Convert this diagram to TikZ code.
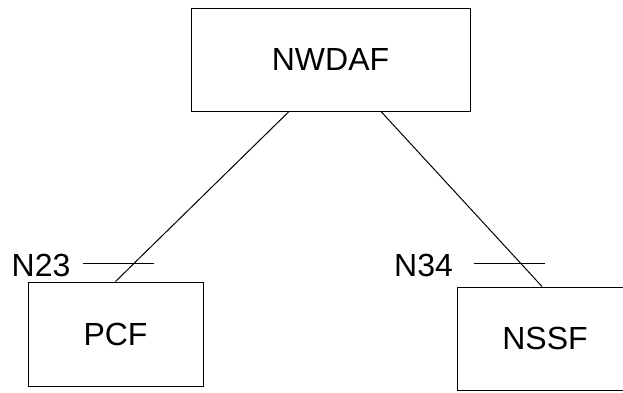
\documentclass[tikz,border=0pt]{standalone}
\usepackage{fontspec}
\setmainfont{Liberation Sans}
\usepackage{tikz}
\usetikzlibrary{positioning, calc}

\begin{document}
\begin{tikzpicture}[x=1pt, y=1pt, line width=1pt,
    nf/.style={draw, rectangle, inner sep=0pt, font=\fontsize{32}{38}\selectfont},
    lbl/.style={inner sep=0pt, font=\fontsize{32}{38}\selectfont}]
  \clip (0,0) rectangle (623,-392);
  \useasboundingbox (0,0) rectangle (623,-392);
  % network functions
  \node[nf, minimum width=279pt, minimum height=103pt] (nwdaf) at (330.5,-59.5) {NWDAF};
  \node[nf, minimum width=175pt, minimum height=104pt] (pcf) at (115.5,-334) {PCF};
  \node[nf, minimum width=176pt, minimum height=103pt] (nssf) at (545,-338.5) {NSSF};
  % interfaces
  \draw ([xshift=-41.5pt]nwdaf.south) -- (pcf.north);
  \draw ([xshift=50.5pt]nwdaf.south) -- ([xshift=-3pt]nssf.north);
  \node[lbl] (n23) at (41,-265) {N23};
  \node[lbl] (n34) at (423.5,-265) {N34};
  \coordinate (t23a) at (83,-263);
  \coordinate (t23b) at (154,-263);
  \coordinate (t34a) at (474,-263);
  \coordinate (t34b) at (545,-263);
  \draw (t23a) -- (t23b);
  \draw (t34a) -- (t34b);
\end{tikzpicture}
\end{document}
